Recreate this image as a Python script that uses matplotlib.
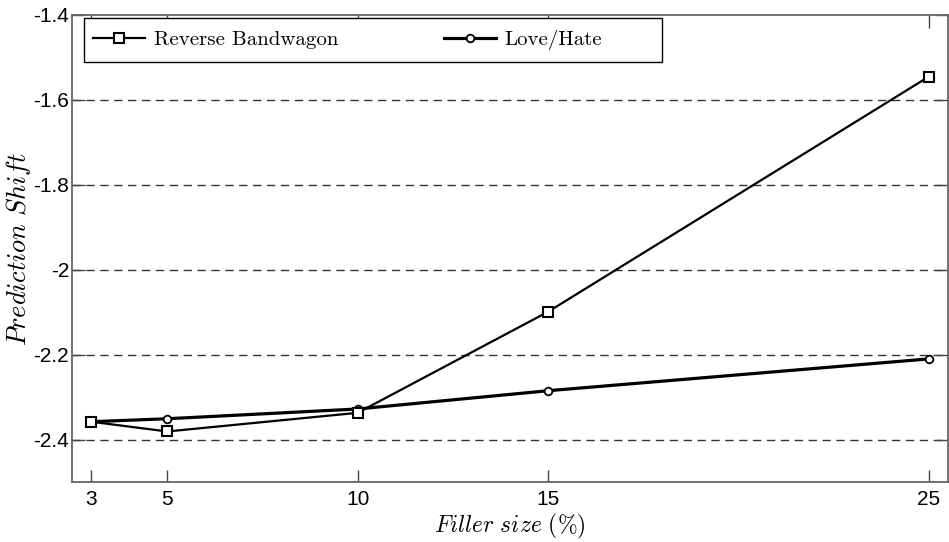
import matplotlib
matplotlib.use('Agg')
import matplotlib.pyplot as plt
from matplotlib.patches import Rectangle
import numpy as np

# %% data
filler = [3, 5, 10, 15, 25]
reverse_bandwagon = [-2.358, -2.381, -2.337, -2.099, -1.545]
love_hate = [-2.358, -2.351, -2.328, -2.285, -2.210]
yticks = [-2.4, -2.2, -2.0, -1.8, -1.6, -1.4]
ytick_labels = ['-2.4', '-2.2', '-2', '-1.8', '-1.6', '-1.4']
xtick_labels = ['3', '5', '10', '15', '25']

plt.rcParams['mathtext.fontset'] = 'cm'

# %% plotting
W, H = 949, 542
fig = plt.figure(figsize=(W / 100, H / 100), dpi=100)
ax_l, ax_r, ax_t, ax_b = 72, 948, 15, 482
ax = fig.add_axes([ax_l / W, 1 - ax_b / H, (ax_r - ax_l) / W, (ax_b - ax_t) / H])

def px2ax(x, y):
    return (x - ax_l) / (ax_r - ax_l), (ax_b - y) / (ax_b - ax_t)

for y in yticks[:-1]:
    ax.axhline(y, color='#333333', lw=1.0, ls=(0, (6, 4)), zorder=1)

ax.plot(filler, reverse_bandwagon, color='k', lw=1.6, marker='s', ms=7,
        mfc='white', mec='k', mew=1.5, label='Reverse Bandwagon', zorder=3)
ax.plot(filler, love_hate, color='k', lw=2.3, marker='o', ms=5.5,
        mfc='white', mec='k', mew=1.3, label='Love/Hate', zorder=2)

ax.set_xlim(2.5, 25.5)
ax.set_ylim(-2.5, -1.4)
ax.set_xticks(filler)
ax.set_xticklabels(xtick_labels)
ax.set_yticks(yticks)
ax.set_yticklabels(ytick_labels)
ax.tick_params(direction='in', length=9, width=1, top=True, right=True,
               labelsize=15, colors='#444444', labelcolor='k')
ax.tick_params(axis='y', pad=2)
ax.tick_params(axis='x', pad=6)
for lab in ax.get_xticklabels() + ax.get_yticklabels():
    lab.set_fontfamily('Liberation Sans')
for s in ax.spines.values():
    s.set_color('#666666')
    s.set_linewidth(1.3)

ax.set_xlabel(r'$Filler\ size\ (\%)$', fontsize=17, labelpad=2)
ax.set_ylabel(r'$Prediction\ Shift$', fontsize=19)
ax.yaxis.set_label_coords(px2ax(33, 0)[0], 0.5)

# legend box (MATLAB style, wider than its contents)
x0, y0 = px2ax(84, 62)
x1, y1 = px2ax(662, 18)
ax.add_patch(Rectangle((x0, y0), x1 - x0, y1 - y0, transform=ax.transAxes,
                       facecolor='white', edgecolor='k', lw=1.0, zorder=4))
leg = ax.legend(loc='center left', bbox_to_anchor=(px2ax(84, 40)), ncol=2,
                frameon=False, prop={'family': 'cmr10', 'size': 15},
                handlelength=2.5, handletextpad=0.4, columnspacing=5.1,
                borderaxespad=0, borderpad=0.45)
leg.set_zorder(5)

fig.savefig('out.png', dpi=100)
